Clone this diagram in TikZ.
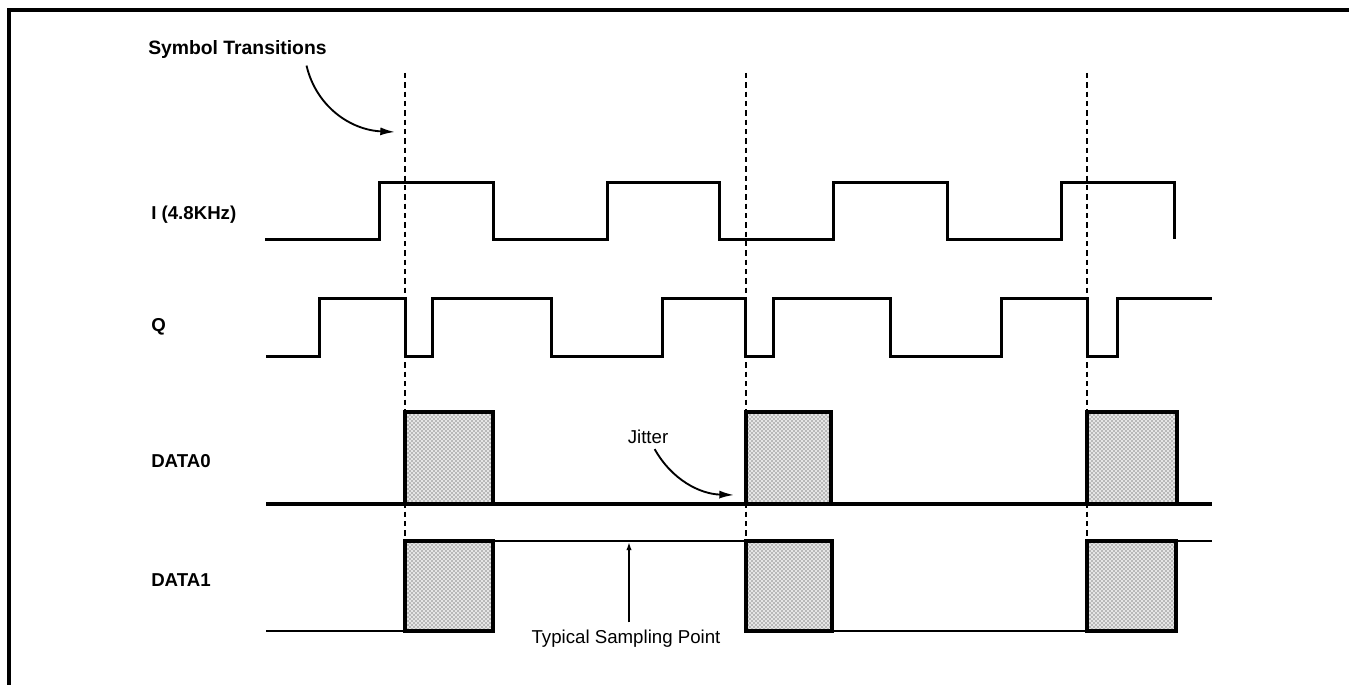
\documentclass[tikz,border=0pt]{standalone}
\usepackage{fontspec}
\setmainfont{Liberation Sans}
\usetikzlibrary{patterns}
\usetikzlibrary{arrows.meta}

\tikzset{
  sigline/.style={line width=2.25pt, line join=miter},
  thinsig/.style={line width=2pt},
  pulsebox/.style={line width=3pt, preaction={fill=black!10}, pattern=crosshatch dots, pattern color=black!85},
  symdash/.style={line width=1.4pt, dash pattern=on 4pt off 3pt},
  siglabel/.style={anchor=west, inner sep=0.75pt, font=\bfseries\fontsize{14}{16}\selectfont},
  notelabel/.style={inner sep=0.75pt, font=\fontsize{14}{16}\selectfont},
  callout/.style={line width=1.4pt, -{Latex[length=11pt,width=6pt]}},
}

\begin{document}
\begin{tikzpicture}[x=0.75pt,y=0.75pt,yscale=-1,xscale=1]
\useasboundingbox (0,0) rectangle (1349,685);

%Frame
\draw [line width=2.3pt] (9,685) -- (9,10) -- (1349,10) ;

%Symbol transitions
\foreach \t in {405,746,1087}
  \draw [symdash] (\t,73) -- (\t,541) ;

%Wave: I
\draw [sigline] (265,239) -- (379,239) -- (379,182) -- (493,182) -- (493,239) -- (607,239) -- (607,182) -- (719,182) -- (719,239) -- (833,239) -- (833,182) -- (947,182) -- (947,239) -- (1061,239) -- (1061,182) -- (1174,182) -- (1174,239) ;
%Wave: Q
\draw [sigline] (266,356) -- (319,356) -- (319,298) -- (405,298) -- (405,356) -- (432,356) -- (432,298) -- (551,298) -- (551,356) -- (662,356) -- (662,298) -- (745,298) -- (745,356) -- (773,356) -- (773,298) -- (890,298) -- (890,356) -- (1001,356) -- (1001,298) -- (1087,298) -- (1087,356) -- (1117,356) -- (1117,298) -- (1212,298) ;

%Wave: DATA0
\draw [line width=3pt] (266,504) -- (1212,504) ;
\draw [pulsebox] (405,504) rectangle (493,412) ;
\draw [pulsebox] (746,504) rectangle (831,412) ;
\draw [pulsebox] (1087,504) rectangle (1177,412) ;

%Wave: DATA1
\draw [thinsig] (266,631) -- (405,631) ;
\draw [thinsig] (493,541) -- (746,541) ;
\draw [thinsig] (831,631) -- (1087,631) ;
\draw [thinsig] (1176,541) -- (1212,541) ;
\draw [pulsebox] (405,631) rectangle (493,541) ;
\draw [pulsebox] (746,631) rectangle (832,541) ;
\draw [pulsebox] (1087,631) rectangle (1176,541) ;

% Text Node
\node [siglabel, font=\bfseries\fontsize{14.5}{16}\selectfont] (symtr) at (147,50) {Symbol Transitions};
% Text Node
\node [siglabel] (ilab) at (150,215) {I (4.8KHz)};
% Text Node
\node [siglabel] (qlab) at (150,327) {Q};
% Text Node
\node [siglabel] (dzlab) at (150,461) {DATA0};
% Text Node
\node [siglabel] (dolab) at (150,580) {DATA1};
% Text Node
\node [notelabel] (jitter) at (648,437) {Jitter};
% Text Node
\node [notelabel] (samp) at (626,639) {Typical Sampling Point};

%Arrows
\coordinate (symtip) at (395,132) ;
\coordinate (jittip) at (734,495) ;
\coordinate (samptip) at (629,542) ;
\draw [callout] ([xshift=-16pt,yshift=4pt]symtr.south east) .. controls (316,106) and (350,130) .. (symtip) ;
\draw [callout] ([xshift=5pt,yshift=3pt]jitter.south) .. controls (672,480) and (700,494) .. (jittip) ;
\draw [line width=1.2pt, -{Latex[length=6pt,width=4pt]}] ([yshift=-5pt]samp.north -| samptip) -- (samptip) ;

\end{tikzpicture}
\end{document}
